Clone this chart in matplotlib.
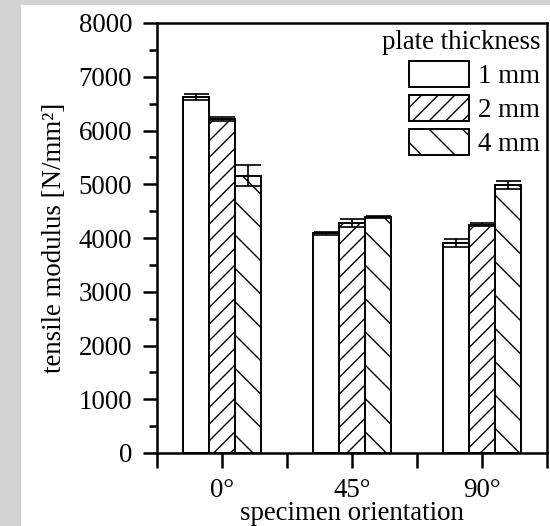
import matplotlib.pyplot as plt
from matplotlib.patches import Rectangle
import numpy as np

# data
orientations = ['0°', '45°', '90°']
thickness_labels = ['1 mm', '2 mm', '4 mm']
modulus_1mm = [6620, 4090, 3910]
error_1mm = [55, 30, 70]
modulus_2mm = [6220, 4280, 4250]
error_2mm = [40, 70, 25]
modulus_4mm = [5160, 4390, 4990]
error_4mm = [195, 20, 70]

plt.rcParams['font.family'] = ['Liberation Serif', 'DejaVu Serif']
plt.rcParams['hatch.linewidth'] = 0.5

fs = 9.7
fig = plt.figure(figsize=(2.75, 2.63), dpi=200, facecolor='#d3d3d3')
# white panel (grey strip left and top like the screenshot)
fig.add_artist(Rectangle((21 / 550, 0), 1, 1 - 5 / 526, transform=fig.transFigure,
                         facecolor='white', edgecolor='none', zorder=-1))
ax = fig.add_axes([157 / 550, 1 - 453 / 526, 390 / 550, 430 / 526])

x = np.arange(len(orientations))
width = 0.2
series = [(modulus_1mm, error_1mm, ''), (modulus_2mm, error_2mm, '////'), (modulus_4mm, error_4mm, '\\\\')]
for i, (vals, errs, hatch) in enumerate(series):
    ax.bar(x + (i - 1) * width, vals, width, yerr=errs, color='white', edgecolor='black',
           linewidth=0.7, hatch=hatch, label=thickness_labels[i],
           error_kw=dict(ecolor='black', elinewidth=0.6, capsize=4.5, capthick=0.6))

ax.set_xlim(-0.5, 2.5)
ax.set_ylim(0, 8000)
ax.set_yticks(range(0, 8001, 1000))
ax.set_yticks(range(500, 8000, 1000), minor=True)
ax.set_xticks(x, orientations)
ax.set_xticks([-0.5, 0.5, 1.5, 2.5], minor=True)

for s in ax.spines.values():
    s.set_linewidth(0.9)
ax.tick_params(axis='both', which='both', direction='out', labelsize=fs, width=0.9,
               top=False, right=False)
ax.tick_params(axis='y', which='major', length=5, pad=4)
ax.tick_params(axis='y', which='minor', length=3)
ax.tick_params(axis='x', which='both', length=5.4, pad=3.5)

ax.set_ylabel('tensile modulus [N/mm²]', fontsize=fs, labelpad=4)
ax.set_xlabel('specimen orientation', fontsize=fs, labelpad=-0.5)

ax.legend(loc='upper right', title='plate thickness', frameon=False, alignment='right',
          fontsize=fs, title_fontsize=fs, handlelength=2.23, handleheight=1.1,
          handletextpad=0.35, labelspacing=0.22, borderaxespad=0.15, borderpad=0.1)

fig.savefig('out.png', dpi=200, facecolor=fig.get_facecolor())
